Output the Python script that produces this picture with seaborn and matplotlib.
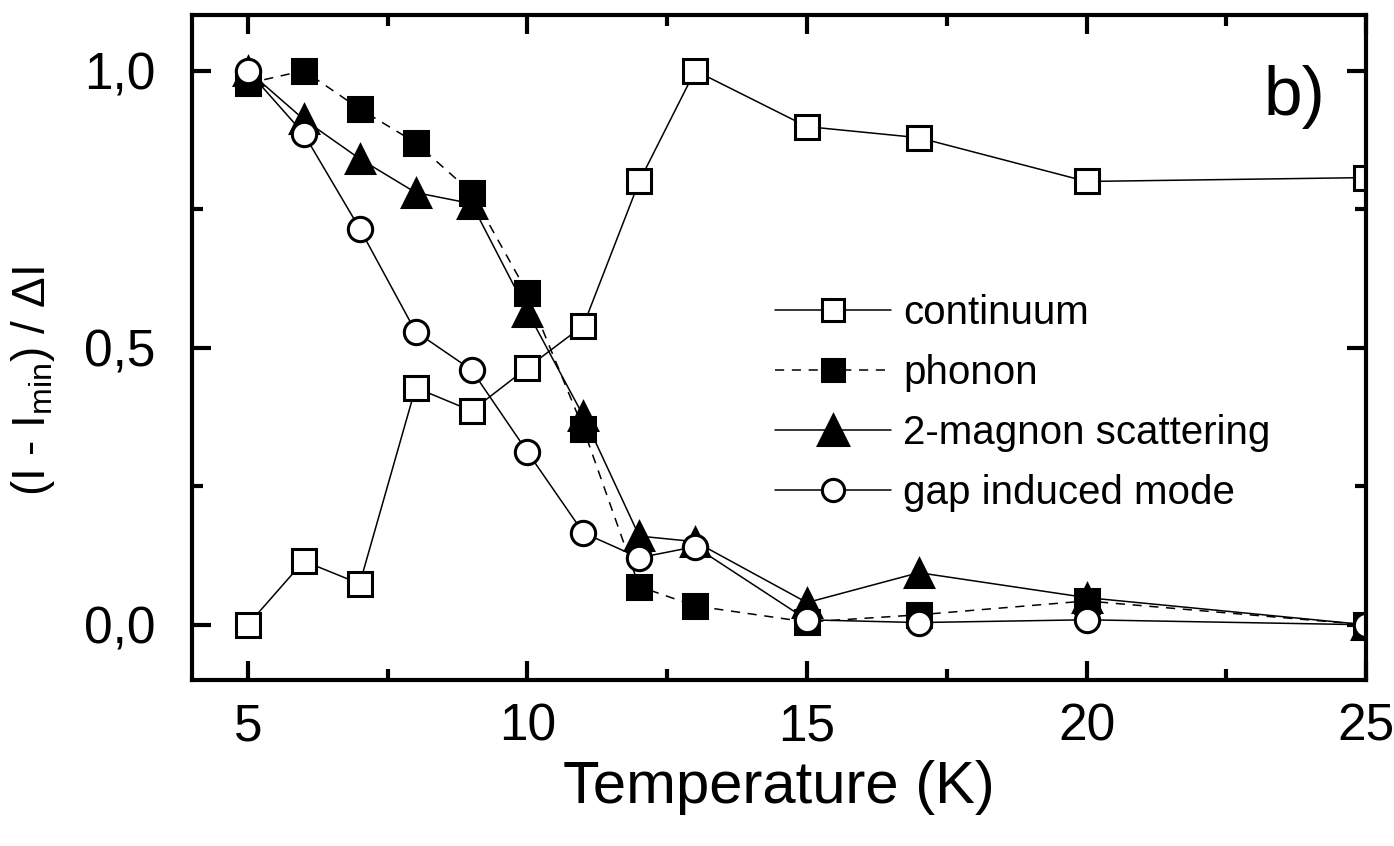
import numpy as np
import pandas as pd
import seaborn as sns
import matplotlib.pyplot as plt
from matplotlib.ticker import MultipleLocator, FuncFormatter

temperature = [5, 6, 7, 8, 9, 10, 11, 12, 13, 15, 17, 20, 25]
continuum = [0.0, 0.115, 0.074, 0.428, 0.386, 0.464, 0.54, 0.80, 1.0, 0.899, 0.879, 0.80, 0.807]
phonon = [0.977, 1.0, 0.931, 0.87, 0.78, 0.599, 0.354, 0.069, 0.034, 0.005, 0.018, 0.043, 0.0]
magnon = [1.0, 0.912, 0.841, 0.78, 0.76, 0.565, 0.377, 0.16, 0.15, 0.04, 0.094, 0.049, 0.0]
gap_mode = [1.0, 0.886, 0.715, 0.529, 0.46, 0.312, 0.166, 0.121, 0.141, 0.009, 0.004, 0.009, 0.0]

series_names = ['continuum', 'phonon', '2-magnon scattering', 'gap induced mode']

sns.set_style('ticks')
plt.rcParams['font.family'] = ['Liberation Sans', 'DejaVu Sans']
plt.rcParams['mathtext.fontset'] = 'custom'
plt.rcParams['mathtext.rm'] = 'Liberation Sans'
plt.rcParams['mathtext.it'] = 'Liberation Sans'
for key in ['text.color', 'axes.labelcolor', 'xtick.color', 'ytick.color', 'axes.edgecolor']:
    plt.rcParams[key] = 'black'

fig = plt.figure(figsize=(13.94, 8.46), dpi=100)
ax = fig.add_axes([0.1377, 0.196, 0.8423, 0.786])

styles = [
    (continuum, 's', 'white', '-'),
    (phonon, 's', 'black', (0, (6, 5))),
    (magnon, '^', 'black', '-'),
    (gap_mode, 'o', 'white', '-'),
]
for (vals, mk, face, ls), name in zip(styles, series_names):
    df = pd.DataFrame({'T': temperature, 'v': vals})
    ms = 20 if mk == '^' else 17.5
    sns.lineplot(data=df, x='T', y='v', ax=ax, color='black', linewidth=1.1,
                 linestyle=ls, marker=mk, markersize=ms, markerfacecolor=face,
                 markeredgecolor='black', markeredgewidth=2.2, label=name)

ax.set_xlim(4, 25)
ax.set_ylim(-0.1, 1.1)
ax.xaxis.set_major_locator(MultipleLocator(5))
ax.xaxis.set_minor_locator(MultipleLocator(2.5))
ax.yaxis.set_major_locator(MultipleLocator(0.5))
ax.yaxis.set_minor_locator(MultipleLocator(0.25))
ax.yaxis.set_major_formatter(FuncFormatter(lambda v, p: f'{v:.1f}'.replace('.', ',')))
ax.tick_params(which='both', direction='in', top=True, right=True, width=3, labelsize=37)
ax.tick_params(axis='x', pad=16)
ax.tick_params(axis='y', pad=26)
ax.tick_params(which='major', length=14)
ax.tick_params(which='minor', length=8)
for sp in ax.spines.values():
    sp.set_linewidth(3)

ax.set_xlabel('Temperature (K)', fontsize=43, labelpad=6)
ax.set_ylabel(r'(I - I$_{\rm min}$) / $\Delta$I', fontsize=33)
ax.yaxis.set_label_coords(-0.115, 0.45)

ax.text(0.965, 0.877, 'b)', transform=ax.transAxes, fontsize=50, ha='right', va='center')

leg = ax.legend(loc='upper left', bbox_to_anchor=(0.479, 0.611), frameon=False, fontsize=29,
                handlelength=2.9, handletextpad=0.3, labelspacing=0.55, borderpad=0)
for h, name in zip(leg.legend_handles, series_names):
    h.set_markersize(21 if name.startswith('2-') else 16)

fig.savefig('out.png', dpi=100)
